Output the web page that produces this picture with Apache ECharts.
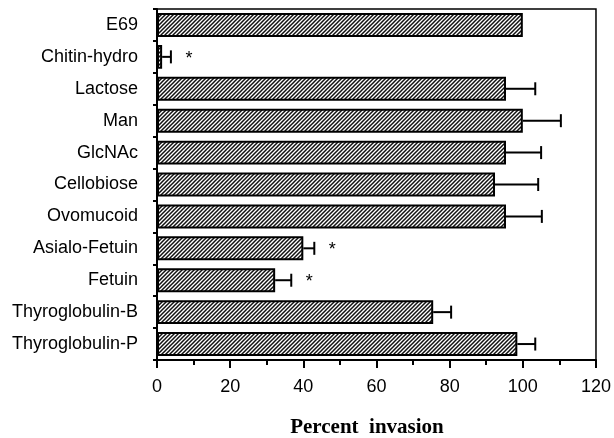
<!DOCTYPE html>
<html>
<head>
<meta charset="utf-8">
<script src="https://cdn.jsdelivr.net/npm/echarts@6/dist/echarts.min.js"></script>
<style>
  html, body { margin: 0; padding: 0; background: #fff; }
  #chart { width: 614px; height: 438px; }
</style>
</head>
<body>
<div id="chart"></div>
<script>
// categories, top to bottom
var categories = ['E69', 'Chitin-hydro', 'Lactose', 'Man', 'GlcNAc', 'Cellobiose',
    'Ovomucoid', 'Asialo-Fetuin', 'Fetuin', 'Thyroglobulin-B', 'Thyroglobulin-P'];
// percent invasion
var invasion = [100, 1.4, 95.4, 100, 95.4, 92.4, 95.4, 40, 32.3, 75.5, 98.5];
// upper error (SD)
var errors = [0, 2.4, 8, 10.4, 9.6, 11.8, 9.8, 3, 4.4, 4.9, 4.9];
// significant (*)
var significant = [0, 1, 0, 0, 0, 0, 0, 1, 1, 0, 0];
var xTicks = [0, 20, 40, 60, 80, 100, 120];

// hatch fill ///
function hatch() {
    var c = document.createElement('canvas');
    c.width = 4; c.height = 4;
    var ctx = c.getContext('2d');
    ctx.fillStyle = '#fff';
    ctx.fillRect(0, 0, 4, 4);
    ctx.strokeStyle = '#111';
    ctx.lineWidth = 1.5;
    ctx.beginPath();
    ctx.moveTo(-1, 5); ctx.lineTo(5, -1);
    ctx.moveTo(-1, 1); ctx.lineTo(1, -1);
    ctx.moveTo(3, 5); ctx.lineTo(5, 3);
    ctx.stroke();
    return c;
}

var errData = invasion.map(function (v, i) { return [v, i, errors[i], significant[i]]; });

var chart = echarts.init(document.getElementById('chart'));

chart.setOption({
    animation: false,
    grid: {
        left: 157,
        right: 17,
        top: 9,
        bottom: 78,
        show: true,
        borderColor: '#000',
        borderWidth: 1.5
    },
    title: {
        text: 'Percent  invasion',
        left: 362,
        top: 412,
        textAlign: 'center',
        textStyle: {
            fontFamily: 'Liberation Serif',
            fontWeight: 'bold',
            fontSize: 21,
            color: '#000'
        }
    },
    xAxis: {
        type: 'value',
        min: xTicks[0],
        max: xTicks[xTicks.length - 1],
        interval: 20,
        axisLine: { show: true, lineStyle: { color: '#000', width: 2 } },
        axisTick: { show: true, length: 8, lineStyle: { color: '#000', width: 2 } },
        minorTick: { show: true, splitNumber: 2, length: 5, lineStyle: { color: '#000', width: 2 } },
        splitLine: { show: false },
        axisLabel: {
            margin: 18,
            fontFamily: 'Liberation Sans',
            fontSize: 18,
            color: '#000'
        }
    },
    yAxis: {
        type: 'category',
        inverse: true,
        data: categories,
        axisLine: { show: true, lineStyle: { color: '#000', width: 2 } },
        axisTick: { show: true, length: 4, lineStyle: { color: '#000', width: 2 } },
        axisLabel: {
            margin: 19,
            fontFamily: 'Liberation Sans',
            fontSize: 18,
            color: '#000'
        }
    },
    series: [
        {
            name: 'invasion',
            type: 'bar',
            data: invasion,
            barCategoryGap: '25%',
            itemStyle: {
                color: { image: hatch(), repeat: 'repeat' },
                borderColor: '#000',
                borderWidth: 2
            },
            z: 2
        },
        {
            name: 'error',
            type: 'custom',
            data: errData,
            z: 3,
            renderItem: function (params, api) {
                var v = api.value(0), i = api.value(1), e = api.value(2), s = api.value(3);
                var p0 = api.coord([v, i]);
                var p1 = api.coord([v + e, i]);
                var children = [];
                if (e > 0) {
                    children.push({
                        type: 'line',
                        shape: { x1: p0[0], y1: p0[1], x2: p1[0], y2: p1[1] },
                        style: { stroke: '#000', lineWidth: 2 }
                    });
                    children.push({
                        type: 'line',
                        shape: { x1: p1[0], y1: p1[1] - 6.5, x2: p1[0], y2: p1[1] + 6.5 },
                        style: { stroke: '#000', lineWidth: 2 }
                    });
                }
                if (s) {
                    children.push({
                        type: 'text',
                        x: p1[0] + 18,
                        y: p1[1] + 2,
                        style: {
                            text: '*',
                            fill: '#000',
                            font: '18px "Liberation Sans"',
                            align: 'center',
                            verticalAlign: 'middle'
                        }
                    });
                }
                return { type: 'group', children: children };
            }
        }
    ]
});
</script>
</body>
</html>
